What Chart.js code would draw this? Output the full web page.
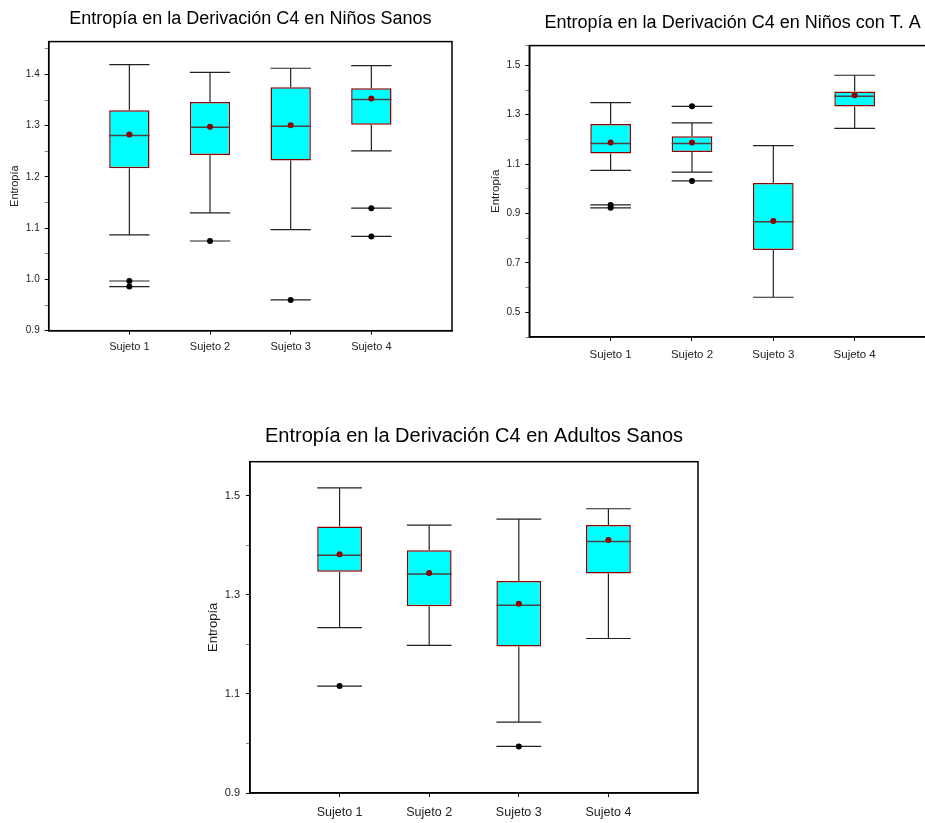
<!DOCTYPE html>
<html>
<head>
<meta charset="utf-8">
<script src="https://cdn.jsdelivr.net/npm/chart.js@4.4.1/dist/chart.umd.min.js"></script>
<style>
html, body { margin: 0; padding: 0; width: 925px; height: 823px; overflow: hidden; background: #fff; }
body { position: relative; }
canvas { position: absolute; }
</style>
</head>
<body>
<canvas id="c1" width="470" height="360" style="left:0px;top:0px"></canvas>
<canvas id="c2" width="480" height="370" style="left:470px;top:0px"></canvas>
<canvas id="c3" width="540" height="413" style="left:190px;top:410px"></canvas>
<script>
var sujetos = ['Sujeto 1', 'Sujeto 2', 'Sujeto 3', 'Sujeto 4'];

// Niños sanos
var nsMax   = [1.419, 1.404, 1.412, 1.417];
var nsQ3    = [1.330, 1.346, 1.375, 1.373];
var nsMed   = [1.281, 1.297, 1.299, 1.351];
var nsQ1    = [1.217, 1.243, 1.232, 1.302];
var nsMin   = [1.087, 1.130, 1.097, 1.251];
var nsMedia = [1.283, 1.298, 1.301, 1.353];
var nsAtip  = [[0.997, 0.986], [1.075], [0.960], [1.139, 1.084]];

// Niños con T. A
var taMax   = [1.361, 1.279, 1.187, 1.472];
var taQ3    = [1.275, 1.225, 1.036, 1.406];
var taMed   = [1.196, 1.196, 0.879, 1.387];
var taQ1    = [1.155, 1.161, 0.764, 1.345];
var taMin   = [1.087, 1.080, 0.573, 1.257];
var taMedia = [1.200, 1.200, 0.882, 1.391];
var taAtip  = [[0.947, 0.935], [1.346, 1.044], [], []];

// Adultos sanos
var adMax   = [1.516, 1.441, 1.453, 1.474];
var adQ3    = [1.438, 1.390, 1.328, 1.441];
var adMed   = [1.380, 1.342, 1.279, 1.408];
var adQ1    = [1.347, 1.277, 1.196, 1.343];
var adMin   = [1.234, 1.198, 1.043, 1.212];
var adMedia = [1.382, 1.344, 1.282, 1.411];
var adAtip  = [[1.116], [], [0.994], []];

var FUENTE = "'Liberation Sans', Arial, sans-serif";

var marco = {
	id: 'marco',
	afterDraw: function(chart) {
		var a = chart.chartArea, ctx = chart.ctx;
		ctx.save();
		ctx.strokeStyle = '#000';
		ctx.lineWidth = 1.5;
		ctx.strokeRect(a.left, a.top, a.right - a.left, a.bottom - a.top);
		ctx.restore();
	}
};

function cajas(q1, med, q3, lo, hi, media, atip) {
	var m = 0.25;
	var bigotes = [], medianas = [], barras = [], medias = [], puntos = [];
	for (var i = 0; i < q1.length; i++) {
		var x = i + 1;
		barras.push({x: x, y: [q1[i], q3[i]]});
		medianas.push({x: x - m, y: med[i]}, {x: x + m, y: med[i]}, {x: x, y: null});
		medias.push({x: x, y: media[i]});
		bigotes.push({x: x, y: q3[i]}, {x: x, y: hi[i]}, {x: x, y: null});
		bigotes.push({x: x, y: q1[i]}, {x: x, y: lo[i]}, {x: x, y: null});
		[hi[i], lo[i]].concat(atip[i]).forEach(function(v) {
			bigotes.push({x: x - m, y: v}, {x: x + m, y: v}, {x: x, y: null});
		});
		atip[i].forEach(function(v) { puntos.push({x: x, y: v}); });
	}
	return [
		{type: 'line', data: medias, showLine: false, pointRadius: 3, pointBorderWidth: 0,
		 pointBackgroundColor: '#8b0000', order: 0},
		{type: 'line', data: puntos, showLine: false, pointRadius: 3, pointBorderWidth: 0,
		 pointBackgroundColor: '#000', order: 0},
		{type: 'line', data: medianas, borderColor: '#4d4040', borderWidth: 1.5, pointRadius: 0,
		 spanGaps: false, order: 1},
		{type: 'bar', data: barras, backgroundColor: '#00ffff', borderColor: '#8b0000', borderWidth: 1.5,
		 borderSkipped: false, barPercentage: 0.5, categoryPercentage: 1, order: 2},
		{type: 'line', data: bigotes, borderColor: '#222', borderWidth: 1.2, pointRadius: 0,
		 spanGaps: false, order: 3}
	];
}

function dibujar(id, titulo, datasets, c) {
	new Chart(document.getElementById(id), {
		type: 'bar',
		data: {datasets: datasets},
		plugins: [marco],
		options: {
			responsive: false,
			animation: false,
			events: [],
			layout: {padding: {left: 0, right: c.derecha, top: 0, bottom: 0}},
			plugins: {
				legend: {display: false},
				tooltip: {enabled: false},
				title: {
					display: true, text: titulo, fullSize: false, color: '#000',
					font: {family: FUENTE, size: c.tamTitulo, weight: 'normal'},
					padding: {top: c.tituloArriba, bottom: c.tituloAbajo}
				}
			},
			scales: {
				x: {
					type: 'linear', min: 0, max: 5, offset: false,
					grid: {display: true, drawOnChartArea: false, offset: false, tickLength: 4,
						tickColor: function(ctx) { var v = ctx.tick && ctx.tick.value; return v >= 1 && v <= 4 ? '#000' : 'rgba(0,0,0,0)'; }},
					border: {display: true, color: '#000', width: 1.5},
					ticks: {stepSize: 1, autoSkip: false, maxRotation: 0, color: '#222', padding: c.padX,
						font: {family: FUENTE, size: c.tamX},
						callback: function(v) { return sujetos[v - 1] || ''; }},
					afterFit: function(s) { s.height = c.altoX; }
				},
				y: {
					min: c.ymin, max: c.ymax, bounds: 'data', beginAtZero: false,
					grid: {display: true, drawOnChartArea: false, tickLength: 4,
						tickColor: function(ctx) { return ctx.tick && c.mayor(ctx.tick.value) ? '#000' : '#888'; }},
					border: {display: true, color: '#000', width: 1.5},
					ticks: {stepSize: c.paso, includeBounds: false, autoSkip: false, color: '#222', padding: c.padY,
						font: {family: FUENTE, size: c.tamY},
						callback: function(v) { return c.mayor(v) ? v.toFixed(1) : ''; }},
					title: {display: true, text: 'Entropía', color: '#222',
						font: {family: FUENTE, size: c.tamEje}, padding: {top: c.padEje, bottom: 0}},
					afterFit: function(s) { s.width = c.anchoY; }
				}
			}
		}
	});
}

dibujar('c1', 'Entropía en la Derivación C4 en Niños Sanos',
	cajas(nsQ1, nsMed, nsQ3, nsMin, nsMax, nsMedia, nsAtip),
	{ymin: 0.9, ymax: 1.464, paso: 0.05,
	 mayor: function(v) { return Math.round(v * 100) % 10 === 0; },
	 derecha: 18, anchoY: 48.7, altoX: 29.3, tamTitulo: 18, tituloArriba: 8, tituloAbajo: 12,
	 tamX: 11, tamY: 10, tamEje: 11, padX: 6, padY: 5, padEje: 8.4});

dibujar('c2', 'Entropía en la Derivación C4 en Niños con T. A',
	cajas(taQ1, taMed, taQ3, taMin, taMax, taMedia, taAtip),
	{ymin: 0.412, ymax: 1.592, paso: 0.1,
	 mayor: function(v) { return Math.round(v * 10) % 2 === 1; },
	 derecha: 14, anchoY: 59.3, altoX: 33, tamTitulo: 18, tituloArriba: 12, tituloAbajo: 12,
	 tamX: 11.5, tamY: 10, tamEje: 11.5, padX: 7, padY: 5, padEje: 19});

dibujar('c3', 'Entropía en la Derivación C4 en Adultos Sanos',
	cajas(adQ1, adMed, adQ3, adMin, adMax, adMedia, adAtip),
	{ymin: 0.9, ymax: 1.569, paso: 0.1,
	 mayor: function(v) { return Math.round(v * 10) % 2 === 1; },
	 derecha: 32, anchoY: 60, altoX: 30, tamTitulo: 20, tituloArriba: 14, tituloAbajo: 13.7,
	 tamX: 12.5, tamY: 11, tamEje: 13, padX: 8.5, padY: 6, padEje: 15.5});
</script>
</body>
</html>
